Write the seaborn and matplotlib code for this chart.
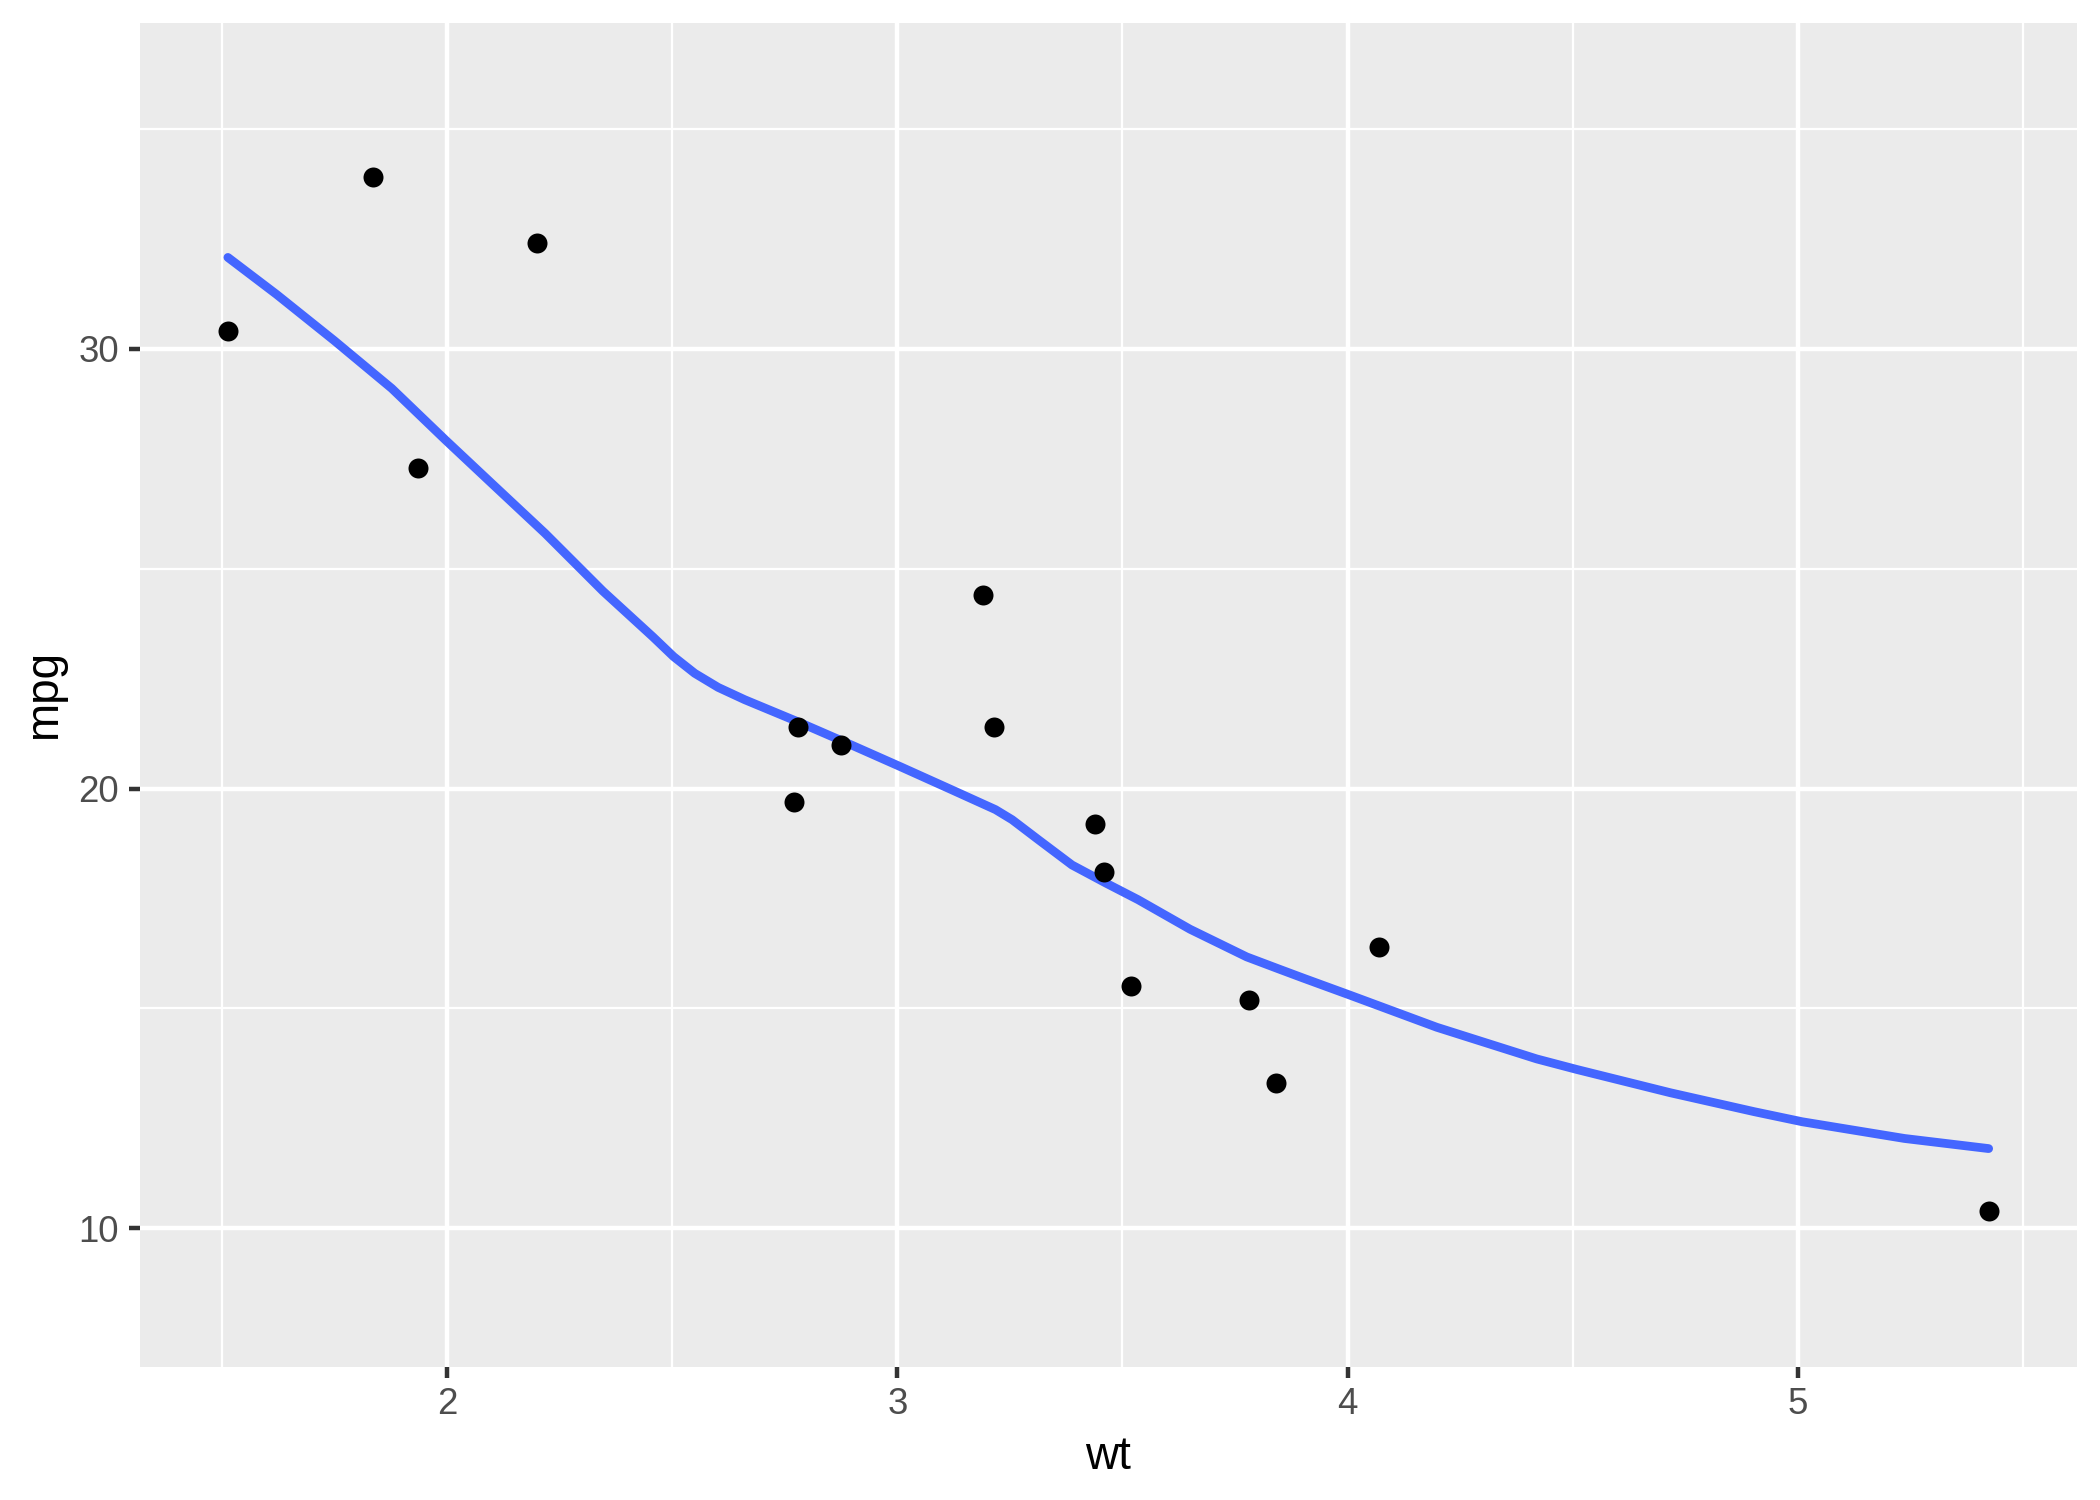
import numpy as np
import pandas as pd
import seaborn as sns
import matplotlib.pyplot as plt
from matplotlib.ticker import MultipleLocator

# points (wt, mpg)
wt = [1.513, 1.835, 1.935, 2.200, 2.770, 2.780, 2.875, 3.190, 3.215,
      3.440, 3.460, 3.520, 3.780, 3.840, 4.070, 5.424]
mpg = [30.4, 33.9, 27.3, 32.4, 19.7, 21.4, 21.0, 24.4, 21.4,
       19.2, 18.1, 15.5, 15.2, 13.3, 16.4, 10.4]

# smooth curve
smooth_wt = [1.513, 1.621, 1.749, 1.877, 1.996, 2.098, 2.218, 2.346, 2.457,
             2.503, 2.550, 2.602, 2.661, 2.781, 2.898, 3.006, 3.121, 3.218,
             3.255, 3.314, 3.388, 3.463, 3.535, 3.650, 3.776, 3.846, 3.901,
             4.008, 4.198, 4.420, 4.509, 4.717, 4.903, 5.010, 5.237, 5.424]
smooth_mpg = [32.08, 31.24, 30.19, 29.10, 27.93, 26.95, 25.80, 24.49, 23.45,
              23.00, 22.62, 22.30, 22.02, 21.51, 20.99, 20.50, 19.97, 19.52,
              19.29, 18.83, 18.26, 17.85, 17.47, 16.80, 16.17, 15.90, 15.69,
              15.29, 14.57, 13.85, 13.61, 13.08, 12.65, 12.42, 12.04, 11.81]

pts = pd.DataFrame({"wt": wt, "mpg": mpg})
fit = pd.DataFrame({"wt": smooth_wt, "mpg": smooth_mpg})

sns.set_style("darkgrid", {"axes.facecolor": "#EBEBEB", "grid.color": "white"})
plt.rcParams["font.family"] = ["Liberation Sans", "DejaVu Sans"]

fig = plt.figure(figsize=(7, 5), dpi=300)
ax = fig.add_axes([0.0665, 0.0889, 0.9225, 0.8960])

sns.lineplot(data=fit, x="wt", y="mpg", color="#4466FF", linewidth=2.1,
             ax=ax, zorder=3, sort=False, solid_joinstyle="round")
sns.scatterplot(data=pts, x="wt", y="mpg", color="black", s=23,
                linewidth=0, ax=ax, zorder=4)

ax.set_xlim(1.317, 5.62)
ax.set_ylim(6.85, 37.42)
ax.xaxis.set_major_locator(MultipleLocator(1))
ax.xaxis.set_minor_locator(MultipleLocator(0.5))
ax.yaxis.set_major_locator(MultipleLocator(10))
ax.yaxis.set_minor_locator(MultipleLocator(5))
ax.grid(which="major", color="white", linewidth=1.07)
ax.grid(which="minor", color="white", linewidth=0.53)
ax.set_axisbelow(True)
for sp in ax.spines.values():
    sp.set_visible(False)

ax.tick_params(which="major", length=2.75, width=1.07, color="#333333",
               labelsize=8.8, labelcolor="#4D4D4D", pad=2.2,
               bottom=True, left=True)
ax.tick_params(which="minor", length=0, bottom=False, left=False)

ax.set_xlabel("wt", fontsize=11, color="black", labelpad=3)
ax.set_ylabel("mpg", fontsize=11, color="black", labelpad=3)

fig.savefig("out.png", dpi=300, facecolor="white")
